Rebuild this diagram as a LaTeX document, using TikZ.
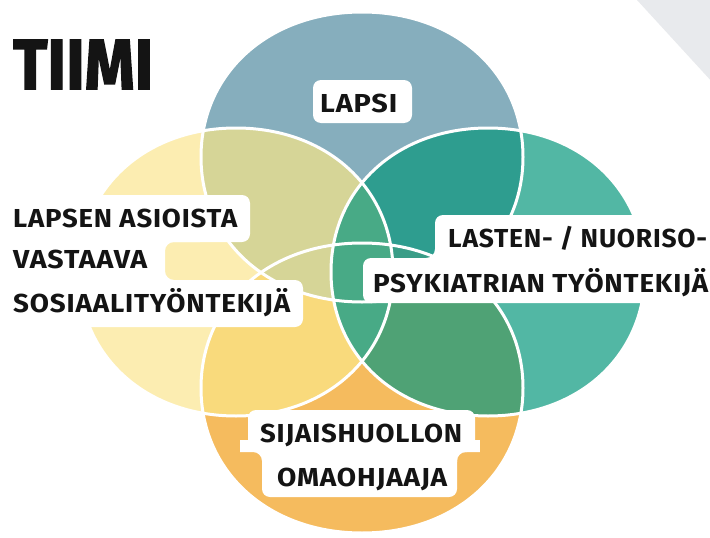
\documentclass[tikz,border=0pt]{standalone}
\usepackage{fontspec}
\usepackage{graphicx}
\setmainfont{Fira Sans}
\newfontfamily\tiimifont{Fira Sans}[FakeBold=2.2]
\newfontfamily\labfont{Fira Sans}[LetterSpace=3]
\definecolor{cB}{HTML}{86AEBD}
\definecolor{cY}{HTML}{FCEDB1}
\definecolor{cT}{HTML}{52B7A4}
\definecolor{cO}{HTML}{F5BB5E}
\definecolor{cBY}{HTML}{D6D597}
\definecolor{cBT}{HTML}{2E9D8F}
\definecolor{cOY}{HTML}{F9DA7C}
\definecolor{cOT}{HTML}{4FA275}
\definecolor{cL}{HTML}{48AA86}
\definecolor{cBOT}{HTML}{3A9D87}
\definecolor{cGray}{HTML}{E8EAED}
\definecolor{ink}{HTML}{141414}
\def\kk{0.58}
\newcommand\myblob[4]{({#1+#3},{#2}) .. controls ({#1+#3},{#2+\kk*#4}) and ({#1+\kk*#3},{#2+#4}) .. ({#1},{#2+#4}) .. controls ({#1-\kk*#3},{#2+#4}) and ({#1-#3},{#2+\kk*#4}) .. ({#1-#3},{#2}) .. controls ({#1-#3},{#2-\kk*#4}) and ({#1-\kk*#3},{#2-#4}) .. ({#1},{#2-#4}) .. controls ({#1+\kk*#3},{#2-#4}) and ({#1+#3},{#2-\kk*#4}) .. ({#1+#3},{#2}) -- cycle}
\newcommand\fitw[2]{\resizebox{#1pt}{\height}{#2}}
\def\PY{\myblob{236}{272}{157}{144}}
\def\PT{\myblob{488}{272}{157}{144}}
\def\PB{\myblob{362}{157}{161}{145}}
\def\PO{\myblob{362}{388}{161}{145}}
\tikzset{
  lab/.style={font=\labfont\bfseries\fontsize{26}{26}\selectfont, text=ink, inner sep=0pt, anchor=base west},
  box/.style={fill=white, rounded corners=8pt},
  plain/.style={fill=white, sharp corners},
  outline/.style={draw=white, line width=3pt},
  notch/.style={even odd rule, rounded corners=9pt}
}
\begin{document}
\begin{tikzpicture}[x=1pt,y=-1pt]
\useasboundingbox (0,0) rectangle (710,538);
\fill[white] (0,0) rectangle (710,538);
\begin{scope}
\clip (0,0) rectangle (710,538);
\fill[cGray] (637,0) -- (780,0) -- (780,156) -- cycle;
% base shapes
\fill[cY] \PY;
\fill[cT] \PT;
\fill[cB] \PB;
\fill[cO] \PO;
% overlaps
\begin{scope}
  \clip \PB;
  \fill[cBY] \PY;
  \fill[cBT] \PT;
\end{scope}
\begin{scope}
  \clip \PO;
  \fill[cOY] \PY;
  \fill[cOT] \PT;
  \begin{scope}
    \clip \PB;
    \fill[cBY] \PY;
    \fill[cBOT] \PT;
  \end{scope}
\end{scope}
\begin{scope}
  \clip \PY;
  \fill[cL] \PT;
\end{scope}
% white outlines
\path[outline] \PY;
\path[outline] \PT;
\path[outline] \PB;
\path[outline] \PO;
% title
\node[font=\tiimifont\bfseries\fontsize{71}{71}\selectfont, text=ink, inner sep=0pt, anchor=base west] (tiimi) at (13,89) {\fitw{140}{TIIMI}};
% LAPSI
\fill[box] (313,80) rectangle (412,123);
\node[lab] (lapsi) at (320,112) {\fitw{77}{LAPSI}};
% left label
\begin{scope}[notch]
  \clip (-50,-50) rectangle (800,600) (165,242) rectangle (900,280);
  \fill[box] (-20,195) rectangle (250,242);
  \fill[box] (-20,280) rectangle (303,327);
  \fill[plain] (-20,236) rectangle (200,286);
\end{scope}
\node[lab] (s1) at (13,227) {\fitw{224}{LAPSEN ASIOISTA}};
\node[lab] (s2) at (13,268) {\fitw{134}{VASTAAVA}};
\node[lab] (s3) at (13,312) {\fitw{277}{SOSIAALITYÖNTEKIJÄ}};
% right label
\begin{scope}[notch]
  \clip (-50,-50) rectangle (800,600) (200,100) rectangle (435,258);
  \fill[box] (435,215) rectangle (760,262);
  \fill[box] (363,258) rectangle (760,303);
  \fill[plain] (400,245) rectangle (760,270);
\end{scope}
\node[lab] (p1) at (448,247) {\fitw{259}{LASTEN- / NUORISO-}};
\node[lab] (p2) at (373,292) {\fitw{335}{PSYKIATRIAN TYÖNTEKIJÄ}};
% bottom label
\begin{scope}[notch]
  \clip (-50,-50) rectangle (800,600) (100,452) rectangle (262,650) (457,452) rectangle (650,650);
  \fill[box] (248,410) rectangle (475,452);
  \fill[box] (262,448) rectangle (457,497);
  \fill[plain] (240,440) rectangle (480,462);
\end{scope}
\node[lab] (o1) at (260,442) {\fitw{202}{SIJAISHUOLLON}};
\node[lab] (o2) at (277,486) {\fitw{170}{OMAOHJAAJA}};
\end{scope}
\end{tikzpicture}
\end{document}
